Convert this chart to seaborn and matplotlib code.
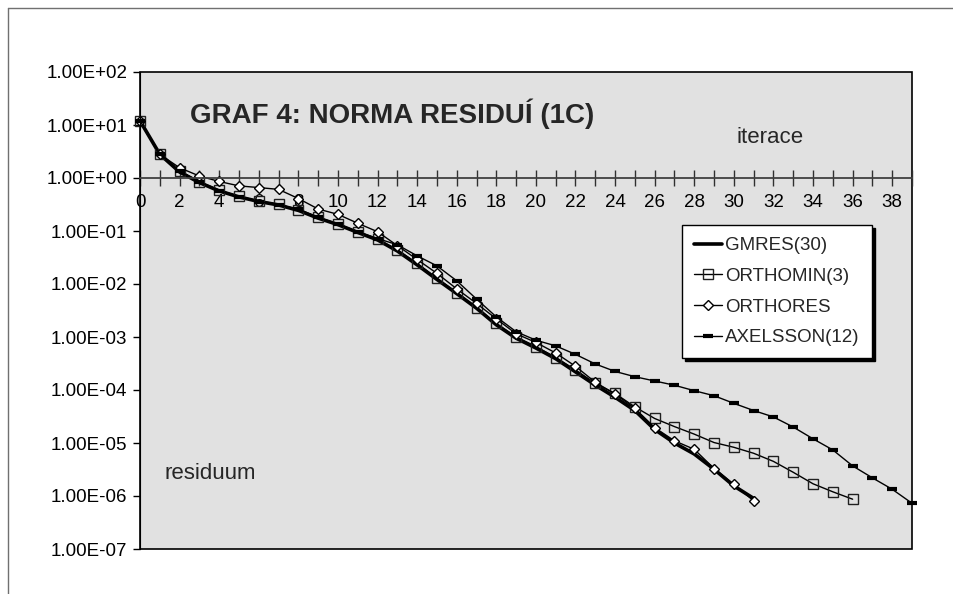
import numpy as np
import pandas as pd
import matplotlib
matplotlib.use("Agg")
import matplotlib.pyplot as plt
import matplotlib.ticker as mticker
from matplotlib.lines import Line2D
import seaborn as sns

# residual norms, one value per iteration
gmres = [12, 2.8, 1.3, 0.82, 0.57, 0.44, 0.36, 0.31, 0.245, 0.175, 0.132, 0.094,
         0.068, 0.042, 0.023, 0.0122, 0.0066, 0.0035, 0.0017, 0.00095, 0.00062,
         0.00039, 0.00022, 0.000124, 7.3e-5, 4.1e-5, 1.8e-5, 1.0e-5, 6.2e-6,
         3.2e-6, 1.55e-6, 9.0e-7]
orthomin = [12, 2.8, 1.36, 0.85, 0.59, 0.45, 0.37, 0.32, 0.25, 0.18, 0.136, 0.097,
            0.070, 0.044, 0.0245, 0.0128, 0.0069, 0.0036, 0.0018, 0.00100, 0.00066,
            0.00041, 0.00024, 0.000133, 8.6e-5, 4.8e-5, 2.9e-5, 2.04e-5, 1.47e-5,
            1.02e-5, 8.3e-6, 6.4e-6, 4.5e-6, 2.8e-6, 1.7e-6, 1.2e-6, 8.7e-7]
orthores = [12, 2.8, 1.56, 1.09, 0.86, 0.71, 0.66, 0.61, 0.41, 0.26, 0.206, 0.14,
            0.097, 0.053, 0.029, 0.0159, 0.0081, 0.0043, 0.0022, 0.00115, 0.00079,
            0.0005, 0.00028, 0.00014, 8.4e-5, 4.5e-5, 1.95e-5, 1.1e-5, 7.6e-6,
            3.3e-6, 1.66e-6, 8.1e-7]
axelsson = [12, 2.8, 1.33, 0.84, 0.58, 0.44, 0.36, 0.31, 0.26, 0.18, 0.135, 0.096,
            0.072, 0.055, 0.034, 0.022, 0.0115, 0.0052, 0.0024, 0.00126, 0.00087,
            0.00068, 0.00047, 0.00031, 0.000224, 0.000178, 0.000148, 0.000123,
            9.7e-5, 7.8e-5, 5.6e-5, 4.1e-5, 3.1e-5, 2.0e-5, 1.2e-5, 7.4e-6, 3.7e-6,
            2.2e-6, 1.34e-6, 7.3e-7]
y_ticks = [1e-7, 1e-6, 1e-5, 1e-4, 1e-3, 1e-2, 1e-1, 1e0, 1e1, 1e2]

series = {
    "GMRES(30)": (gmres, dict(color="black", linewidth=2.6)),
    "ORTHOMIN(3)": (orthomin, dict(color="black", linewidth=1, marker="s", markersize=7,
                                   markerfacecolor="none", markeredgecolor="#202020",
                                   markeredgewidth=1)),
    "ORTHORES": (orthores, dict(color="black", linewidth=1, marker="D", markersize=5.5,
                                markerfacecolor="white", markeredgecolor="black",
                                markeredgewidth=1)),
    "AXELSSON(12)": (axelsson, dict(color="black", linewidth=1, marker="_", markersize=7,
                                    markeredgewidth=3, markeredgecolor="black")),
}

sns.set_style("white")
plt.rcParams["font.family"] = ["Liberation Sans", "DejaVu Sans"]

fig = plt.figure(figsize=(9.54, 5.94), dpi=100)
ax = fig.add_axes([140 / 954, 1 - 549 / 594, 772 / 954, 477 / 594])
ax.set_facecolor("#e1e1e1")

for name, (vals, style) in series.items():
    df = pd.DataFrame({"iterace": np.arange(len(vals)), "residuum": vals})
    sns.lineplot(data=df, x="iterace", y="residuum", ax=ax, label=name,
                 errorbar=None, clip_on=False, **style)

ax.set_yscale("log")
ax.set_ylim(1e-7, 1e2)
ax.set_xlim(0, 39)
ax.set_xlabel("")
ax.set_ylabel("")

# y axis: decades in Excel style
ax.set_yticks(y_ticks)
ax.yaxis.set_minor_locator(mticker.NullLocator())
ax.yaxis.set_major_formatter(mticker.FuncFormatter(lambda v, p: f"{v:.2E}"))
ax.tick_params(axis="y", which="major", direction="out", length=5, width=1,
               labelsize=13.5, pad=4, left=True, colors="black")

# x axis crosses at 1.00E+00
for side in ["top", "right"]:
    ax.spines[side].set_visible(False)
ax.spines["bottom"].set_position(("data", 1))
ax.spines["bottom"].set_color("#404040")
ax.spines["bottom"].set_linewidth(1.3)
ax.spines["left"].set_color("black")
ax.patch.set_edgecolor("black")
ax.patch.set_linewidth(1.2)
ax.xaxis.set_major_locator(mticker.MultipleLocator(2))
ax.xaxis.set_minor_locator(mticker.MultipleLocator(1))
ax.tick_params(axis="x", which="both", direction="inout", length=11, width=1,
               bottom=True, colors="#303030")
ax.tick_params(axis="x", which="major", labelsize=13.5, pad=6, labelcolor="black")

ax.text(0.065, 0.893, "GRAF 4: NORMA RESIDUÍ (1C)", transform=ax.transAxes,
        fontsize=20, fontweight="bold", va="baseline", ha="left")
ax.text(0.773, 0.862, "iterace", transform=ax.transAxes, fontsize=16,
        va="center", ha="left")
ax.text(0.032, 0.159, "residuum", transform=ax.transAxes, fontsize=16,
        va="center", ha="left")

leg = ax.legend(loc="upper left", bbox_to_anchor=(0.702, 0.679), fontsize=13.5,
                frameon=True, fancybox=False, shadow={"color": "black", "alpha": 1},
                handlelength=1.5, handletextpad=0.15, labelspacing=0.72,
                borderpad=0.65, borderaxespad=0)
leg.get_frame().set_edgecolor("black")
leg.get_frame().set_linewidth(1)
leg.get_frame().set_facecolor("white")

# outer chart frame (only top and left edges show in the picture)
fig.add_artist(Line2D([8 / 954, 1], [1 - 8 / 594, 1 - 8 / 594], color="#707070", lw=1))
fig.add_artist(Line2D([8 / 954, 8 / 954], [0, 1 - 8 / 594], color="#707070", lw=1))

fig.savefig("out.png", dpi=100)
